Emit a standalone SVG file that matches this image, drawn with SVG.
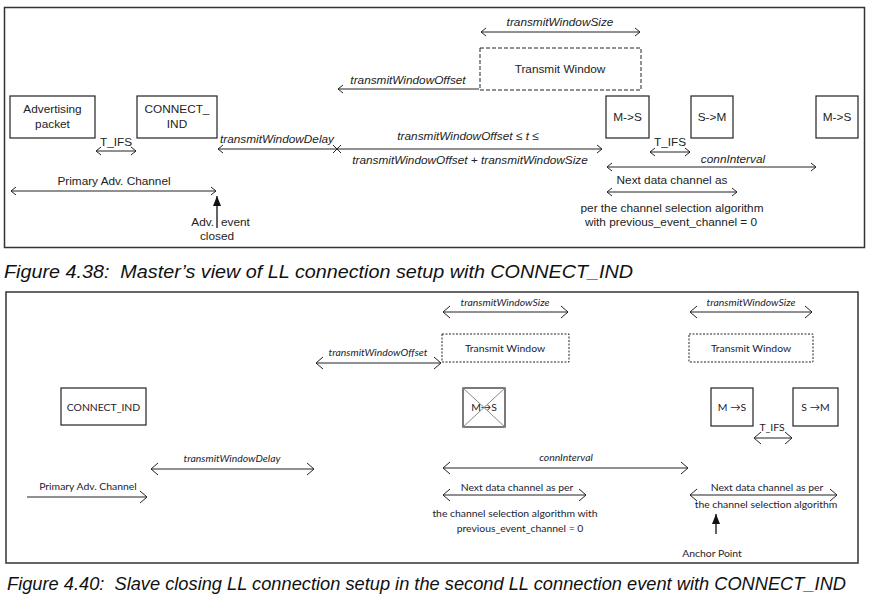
<svg xmlns="http://www.w3.org/2000/svg" width="869" height="599" viewBox="0 0 869 599">
<defs>
<style>
.frame{fill:none;stroke:#333;stroke-width:1.5}
.box{fill:#fff;stroke:#222;stroke-width:1.2}
.dash{fill:none;stroke:#222;stroke-width:1;stroke-dasharray:4 2}
.dot{fill:none;stroke:#222;stroke-width:1;stroke-dasharray:2 1.5}
.ln{fill:none;stroke:#222;stroke-width:1}
.t{font-family:"Liberation Sans",Arial,sans-serif;font-size:11.8px;fill:#222;text-anchor:middle}
.ti{font-family:"Liberation Sans",Arial,sans-serif;font-size:11.8px;fill:#222;text-anchor:middle;font-style:italic}
.b{font-family:Lato,"Open Sans",sans-serif;font-size:10.4px;fill:#1c2230;text-anchor:middle}
.bi{font-family:Lato,"Open Sans",sans-serif;font-size:10.4px;fill:#1c2230;text-anchor:middle;font-style:italic}
.cap{font-family:"Liberation Sans",Arial,sans-serif;font-style:italic;fill:#111}
</style>
<marker id="a" viewBox="-6 -5 7 10" markerWidth="7" markerHeight="10" refX="0" refY="0" orient="auto-start-reverse" markerUnits="userSpaceOnUse">
<path d="M-5,-4 L0,0 L-5,4" fill="none" stroke="#222" stroke-width="1"/>
</marker>
<marker id="b" viewBox="-9 -7 10 14" markerWidth="10" markerHeight="14" refX="0" refY="0" orient="auto-start-reverse" markerUnits="userSpaceOnUse">
<path d="M-7,-6 L0,0 L-7,6" fill="none" stroke="#222" stroke-width="1"/>
</marker>
<marker id="f" viewBox="-10 -5 11 10" markerWidth="11" markerHeight="10" refX="0" refY="0" orient="auto" markerUnits="userSpaceOnUse">
<path d="M-10,-4 L0,0 L-10,4 z" fill="#111"/>
</marker>
</defs>
<rect width="869" height="599" fill="#fff"/>

<!-- Top panel -->
<rect class="frame" x="4.5" y="7.5" width="860" height="240"/>
<g id="adv-packet"><rect class="box" x="10" y="96" width="85" height="42"/><text class="t" x="52.5" y="113">Advertising</text><text class="t" x="52.5" y="128">packet</text></g>
<g id="connect-ind-top"><rect class="box" x="137" y="96" width="80" height="42"/><text class="t" x="177" y="113">CONNECT_</text><text class="t" x="177" y="128">IND</text></g>
<g id="tw-top"><rect class="dash" x="480" y="48" width="161" height="42"/><text class="t" x="560" y="73">Transmit Window</text></g>
<g id="ms1-top"><rect class="box" x="606" y="96" width="43" height="42"/><text class="t" x="627.5" y="121">M-&gt;S</text></g>
<g id="sm-top"><rect class="box" x="691" y="96" width="42" height="42"/><text class="t" x="712" y="121">S-&gt;M</text></g>
<g id="ms2-top"><rect class="box" x="816" y="96" width="42" height="42"/><text class="t" x="837" y="121">M-&gt;S</text></g>

<g id="connectors-top">
<line class="ln" x1="96" y1="151" x2="136" y2="151" marker-start="url(#a)" marker-end="url(#a)"/>
<line class="ln" x1="218" y1="149" x2="337" y2="149" marker-start="url(#a)"/>
<line class="ln" x1="337" y1="149" x2="602" y2="149" marker-end="url(#a)"/>
<path class="ln" d="M333,145 L341,153 M341,145 L333,153"/>
<line class="ln" x1="338" y1="89" x2="479" y2="89" marker-start="url(#a)"/>
<line class="ln" x1="481" y1="32" x2="640" y2="32" marker-start="url(#a)" marker-end="url(#a)"/>
<line class="ln" x1="650" y1="152" x2="690" y2="152" marker-start="url(#a)" marker-end="url(#a)"/>
<line class="ln" x1="607" y1="167" x2="816" y2="167" marker-start="url(#a)" marker-end="url(#a)"/>
<line class="ln" x1="607" y1="192" x2="737" y2="192" marker-start="url(#a)" marker-end="url(#a)"/>
<line class="ln" x1="11" y1="191" x2="216" y2="191" marker-start="url(#a)" marker-end="url(#a)"/>
<line x1="217" y1="228" x2="217" y2="196" stroke="#111" stroke-width="1.3" marker-end="url(#f)"/>
</g>
<g id="labels-top">
<text class="t" x="116" y="146">T_IFS</text>
<text class="ti" x="277" y="143">transmitWindowDelay</text>
<text class="ti" x="468" y="140">transmitWindowOffset ≤ t ≤</text>
<text class="ti" x="470" y="164">transmitWindowOffset + transmitWindowSize</text>
<text class="ti" x="408" y="84">transmitWindowOffset</text>
<text class="ti" x="560" y="26">transmitWindowSize</text>
<text class="t" x="670" y="146">T_IFS</text>
<text class="ti" x="733" y="163">connInterval</text>
<text class="t" x="672" y="184">Next data channel as</text>
<text class="t" x="672" y="212">per the channel selection algorithm</text>
<text class="t" x="671" y="226">with previous_event_channel = 0</text>
<text class="t" x="114" y="185">Primary Adv. Channel</text>
<text class="t" x="214" y="226" style="text-anchor:end">Adv.</text>
<text class="t" x="221" y="226" style="text-anchor:start">event</text>
<text class="t" x="217" y="240">closed</text>
</g>
<text class="cap" x="4" y="278" font-size="18" textLength="629" lengthAdjust="spacingAndGlyphs">Figure 4.38:&#160; Master’s view of LL connection setup with CONNECT_IND</text>

<!-- Bottom panel -->
<rect class="frame" x="6" y="292" width="852" height="271"/>
<g id="connect-ind-bot"><rect class="box" x="61" y="388" width="85" height="37"/><text class="b" x="103.5" y="411">CONNECT_IND</text></g>
<g id="tw1-bot"><rect class="dot" x="442" y="334" width="127" height="28"/><text class="b" x="505" y="352">Transmit Window</text></g>
<g id="ms-crossed"><rect class="box" x="463" y="388" width="42" height="39"/><text class="b" x="484" y="411">M→S</text><path d="M463,388 L505,427 M505,388 L463,427" stroke="#888" stroke-width="1" fill="none"/></g>
<g id="tw2-bot"><rect class="dot" x="689" y="334" width="124" height="28"/><text class="b" x="751" y="352">Transmit Window</text></g>
<g id="ms-bot"><rect class="box" x="711" y="388" width="42" height="38"/><text class="b" x="732" y="411">M →S</text></g>
<g id="sm-bot"><rect class="box" x="793" y="388" width="45" height="38"/><text class="b" x="815.5" y="411">S →M</text></g>

<g id="connectors-bot">
<line class="ln" x1="151" y1="469" x2="314" y2="469" marker-start="url(#b)" marker-end="url(#b)"/>
<line class="ln" x1="27" y1="497" x2="147" y2="497" marker-end="url(#b)"/>
<line class="ln" x1="316" y1="363" x2="441" y2="363" marker-start="url(#b)" marker-end="url(#b)"/>
<line class="ln" x1="443" y1="312" x2="568" y2="312" marker-start="url(#b)" marker-end="url(#b)"/>
<line class="ln" x1="443" y1="468" x2="688" y2="468" marker-start="url(#b)" marker-end="url(#b)"/>
<line class="ln" x1="443" y1="495" x2="586" y2="495" marker-start="url(#b)" marker-end="url(#b)"/>
<line class="ln" x1="690" y1="312" x2="812" y2="312" marker-start="url(#b)" marker-end="url(#b)"/>
<line class="ln" x1="754" y1="438" x2="792" y2="438" marker-start="url(#b)" marker-end="url(#b)"/>
<line class="ln" x1="690" y1="495" x2="837" y2="495" marker-start="url(#b)" marker-end="url(#b)"/>
<line x1="716" y1="534" x2="716" y2="514" stroke="#111" stroke-width="1.3" marker-end="url(#f)"/>
</g>
<g id="labels-bot">
<text class="bi" x="232" y="462">transmitWindowDelay</text>
<text class="b" x="88" y="490">Primary Adv. Channel</text>
<text class="bi" x="378" y="356">transmitWindowOffset</text>
<text class="bi" x="505" y="306">transmitWindowSize</text>
<text class="bi" x="566" y="461">connInterval</text>
<text class="b" x="517" y="491">Next data channel as per</text>
<text class="b" x="515" y="517">the channel selection algorithm with</text>
<text class="b" x="520" y="532">previous_event_channel = 0</text>
<text class="bi" x="751" y="306">transmitWindowSize</text>
<text class="b" x="772" y="431">T_IFS</text>
<text class="b" x="767" y="491">Next data channel as per</text>
<text class="b" x="766" y="508">the channel selection algorithm</text>
<text class="b" x="712" y="557">Anchor Point</text>
</g>
<text class="cap" x="7" y="590" font-size="17.5" textLength="839" lengthAdjust="spacingAndGlyphs">Figure 4.40:&#160; Slave closing LL connection setup in the second LL connection event with CONNECT_IND</text>
</svg>
